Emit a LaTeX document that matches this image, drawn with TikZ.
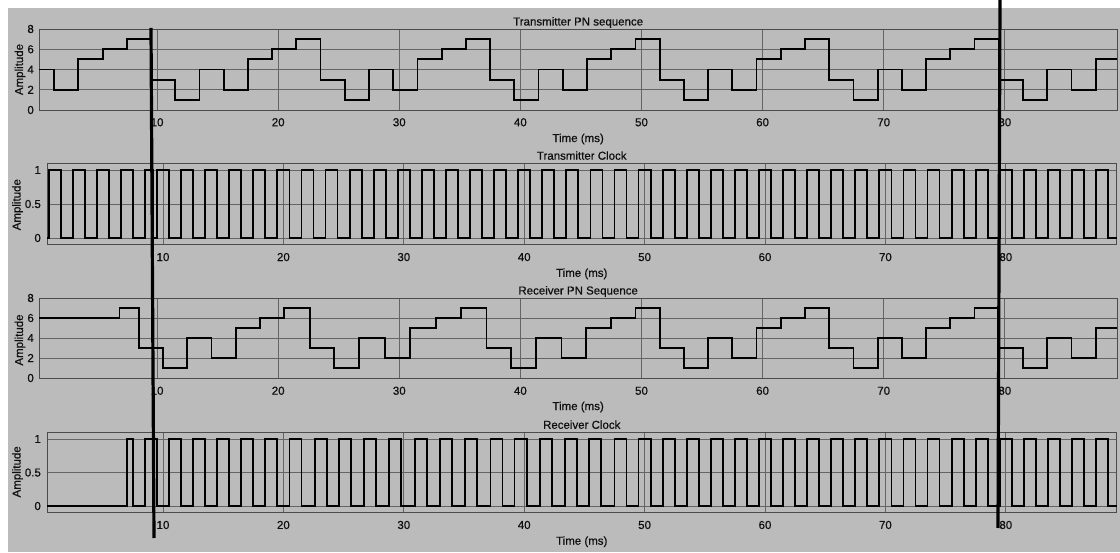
\documentclass[tikz,border=0pt]{standalone}
\usepackage{fontspec}
\setmainfont{Liberation Sans}
\newfontfamily\plotfont{Liberation Sans}[FakeBold=0.6]
\definecolor{bggray}{RGB}{187,187,187}
\definecolor{gridgray}{RGB}{100,100,100}
\definecolor{boxgray}{RGB}{75,75,75}
\definecolor{textgray}{RGB}{15,15,15}

\begin{document}
\begin{tikzpicture}[x=1pt,y=1pt,
  signal/.style={black, line width=1.8pt},
  gridline/.style={draw=gridgray, line width=0.7pt},
  axisbox/.style={draw=boxgray, line width=0.9pt},
  ticklabel/.style={text=textgray, font=\plotfont\fontsize{11.5}{13}\selectfont, inner sep=0pt},
  cutline/.style={black, line width=3.2pt}]

  \useasboundingbox (0,0) rectangle (1120,552);
  \fill[bggray] (8,0) rectangle (1120,544);

  % Transmitter PN sequence
  \begin{scope}[shift={(36,442)}, x=12.11pt, y=10.125pt]
    \foreach \t in {10,20,...,80}
      \draw[gridline] (\t,0) -- (\t,8);
    \foreach \v in {2,4,6}
      \draw[gridline] (0.25,\v) -- (89.3,\v);
    \draw[axisbox] (0.25,0) rectangle (89.3,8);
    \foreach \t in {10,20,...,80}
      \node[ticklabel, anchor=north, yshift=-8pt] (txpn-x\t) at (\t,0) {\t};
    \foreach \v in {0,2,...,8}
      \node[ticklabel, anchor=east, xshift=-5pt] (txpn-y\v) at (0.25,\v) {\v};
    \node[ticklabel, rotate=90] (txpn-ylabel) at (-1.32,4) {Amplitude};
    \node[ticklabel, anchor=base, yshift=3.5pt] (txpn-title) at (44.77,8) {Transmitter PN sequence};
    \node[ticklabel, anchor=north, yshift=-23.5pt] (txpn-xlabel) at (44.77,0) {Time (ms)};

    \draw[signal] (0.25,4)
      \foreach \t/\v in {1.5/2, 3.5/5, 5.5/6, 7.5/7, 9.5/3, 11.5/1, 13.5/4, 15.5/2,
        17.5/5, 19.5/6, 21.5/7, 23.5/3, 25.5/1, 27.5/4, 29.5/2, 31.5/5, 33.5/6,
        35.5/7, 37.5/3, 39.5/1, 41.5/4, 43.5/2, 45.5/5, 47.5/6, 49.5/7, 51.5/3,
        53.5/1, 55.5/4, 57.5/2, 59.5/5, 61.5/6, 63.5/7, 65.5/3, 67.5/1, 69.5/4,
        71.5/2, 73.5/5, 75.5/6, 77.5/7, 79.5/3, 81.5/1, 83.5/4, 85.5/2, 87.5/5}
      { -| (\t,\v) } -- (89.3,5);
  \end{scope}

  % Transmitter clock
  \begin{scope}[shift={(42.6,314)}, x=12.04pt, y=68pt]
    \foreach \t in {10,20,...,80}
      \draw[gridline] (\t,-0.1) -- (\t,1.1);
    \foreach \v in {0,0.5,1}
      \draw[gridline] (0.37,\v) -- (89.2,\v);
    \draw[axisbox] (0.37,-0.1) rectangle (89.2,1.1);
    \foreach \t in {10,20,...,80}
      \node[ticklabel, anchor=north, yshift=-8pt] (txclk-x\t) at (\t,-0.1) {\t};
    \foreach \v/\n in {0/a,0.5/b,1/c}
      \node[ticklabel, anchor=east, xshift=-6pt] (txclk-y\n) at (0.37,\v) {\v};
    \node[ticklabel, rotate=90] (txclk-ylabel) at (-2.08,0.49) {Amplitude};
    \node[ticklabel, anchor=base, yshift=3.5pt] (txclk-title) at (44.78,1.1) {Transmitter Clock};
    \node[ticklabel, anchor=north, yshift=-23.5pt] (txclk-xlabel) at (44.78,-0.1) {Time (ms)};

    % half a period is lost at the first marker
    \draw[signal] (0.37,0)
      \foreach \k in {0,...,3}
      { -| ({2*\k+0.5},1) -| ({2*\k+1.5},0) } -| (8.5,1) -| (9.2,0)
      \foreach \k in {4,...,43}
      { -| ({2*\k+1.5},1) -| ({2*\k+2.5},0) } -- (89.2,0);
  \end{scope}

  % Receiver PN sequence
  \begin{scope}[shift={(36,174)}, x=12.11pt, y=10pt]
    \foreach \t in {10,20,...,80}
      \draw[gridline] (\t,0) -- (\t,8);
    \foreach \v in {2,4,6}
      \draw[gridline] (0.25,\v) -- (89.3,\v);
    \draw[axisbox] (0.25,0) rectangle (89.3,8);
    \foreach \t in {10,20,...,80}
      \node[ticklabel, anchor=north, yshift=-8.5pt] (rxpn-x\t) at (\t,0) {\t};
    \foreach \v in {0,2,...,8}
      \node[ticklabel, anchor=east, xshift=-5pt] (rxpn-y\v) at (0.25,\v) {\v};
    \node[ticklabel, rotate=90] (rxpn-ylabel) at (-1.32,3.8) {Amplitude};
    \node[ticklabel, anchor=base, yshift=3.5pt] (rxpn-title) at (44.77,8) {Receiver PN Sequence};
    \node[ticklabel, anchor=north, yshift=-23.5pt] (rxpn-xlabel) at (44.77,0) {Time (ms)};

    \draw[signal] (0.25,6)
      \foreach \t/\v in {6.9/7, 8.5/3, 10.5/1, 12.5/4, 14.5/2, 16.5/5, 18.5/6,
        20.5/7, 22.6/3, 24.6/1, 26.7/4, 28.8/2, 30.9/5, 33.0/6, 35.1/7, 37.2/3,
        39.2/1, 41.3/4, 43.4/2, 45.4/5, 47.5/6, 49.5/7, 51.5/3, 53.5/1, 55.5/4,
        57.5/2, 59.5/5, 61.5/6, 63.5/7, 65.5/3, 67.5/1, 69.5/4, 71.5/2, 73.5/5,
        75.5/6, 77.5/7, 79.5/3, 81.5/1, 83.5/4, 85.5/2, 87.5/5}
      { -| (\t,\v) } -- (89.3,5);
  \end{scope}

  % Receiver clock
  \begin{scope}[shift={(42.6,46)}, x=12.04pt, y=67pt]
    \foreach \t in {10,20,...,80}
      \draw[gridline] (\t,-0.1) -- (\t,1.1);
    \foreach \v in {0,0.5,1}
      \draw[gridline] (0.37,\v) -- (89.2,\v);
    \draw[axisbox] (0.37,-0.1) rectangle (89.2,1.1);
    \foreach \t in {10,20,...,80}
      \node[ticklabel, anchor=north, yshift=-8pt] (rxclk-x\t) at (\t,-0.1) {\t};
    \foreach \v/\n in {0/a,0.5/b,1/c}
      \node[ticklabel, anchor=east, xshift=-6pt] (rxclk-y\n) at (0.37,\v) {\v};
    \node[ticklabel, rotate=90] (rxclk-ylabel) at (-2.08,0.51) {Amplitude};
    \node[ticklabel, anchor=base, yshift=3.5pt] (rxclk-title) at (44.78,1.1) {Receiver Clock};
    \node[ticklabel, anchor=north, yshift=-23.5pt] (rxclk-xlabel) at (44.78,-0.1) {Time (ms)};

    % rising edges follow the receiver PN steps
    \draw[signal] (0.37,0) -| (7.0,1) -| (7.5,0)
      \foreach \r in {8.5, 10.5, 12.5, 14.5, 16.5, 18.5, 20.5, 22.6, 24.6, 26.7,
        28.8, 30.9, 33.0, 35.1, 37.2, 39.2, 41.3, 43.4, 45.4, 47.5, 49.5, 51.5,
        53.5, 55.5, 57.5, 59.5, 61.5, 63.5, 65.5, 67.5, 69.5, 71.5, 73.5, 75.5,
        77.5, 79.5, 81.5, 83.5, 85.5, 87.5}
      { -| (\r,1) -| ({\r+1},0) } -- (89.2,0);
  \end{scope}

  % the two sync markers
  \coordinate (mark1top) at (151,524);
  \coordinate (mark1bot) at (154,14);
  \coordinate (mark2top) at (1000,552);
  \coordinate (mark2bot) at (998,24);
  \draw[cutline] (mark1top) -- (mark1bot);
  \draw[cutline] (mark2top) -- (mark2bot);
\end{tikzpicture}
\end{document}
